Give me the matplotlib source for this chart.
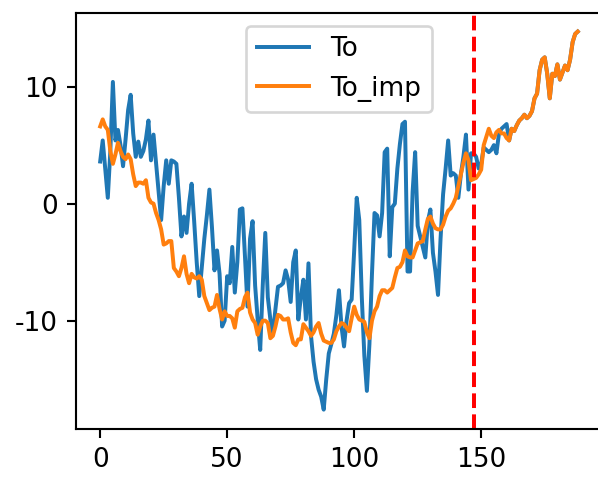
import matplotlib
matplotlib.use("Agg")
import matplotlib.pyplot as plt
import numpy as np

plt.rcParams['axes.unicode_minus'] = False

# Observed series (To) up to index 160, afterwards it coincides with To_imp
to_head = [
    3.6, 5.4, 3.0, 0.5, 4.5, 10.4, 5.4, 6.3, 5.0, 3.2,
    5.5, 8.0, 9.3, 6.0, 4.0, 5.3, 4.0, 4.5, 5.5, 7.1,
    3.7, 5.9, 3.5, 1.0, -1.4, 1.5, 3.7, 1.7, 3.7, 3.6,
    3.4, 0.5, -2.8, -1.1, -2.5, 0.0, 1.7, -1.5, -5.0, -7.9,
    -5.5, -3.0, -1.0, 1.2, -2.0, -5.7, -4.0, -6.0, -10.5, -10.0,
    -6.2, -6.8, -3.7, -7.6, -5.0, -0.5, -0.4, -4.5, -8.8, -3.0,
    -1.5, -7.0, -9.9, -12.5, -7.0, -2.5, -8.0, -9.9, -11.1, -9.0,
    -7.1, -7.0, -6.8, -5.7, -6.5, -8.4, -5.0, -4.0, -9.9, -8.0,
    -6.5, -9.9, -5.1, -11.3, -13.5, -15.0, -15.9, -16.5, -17.6, -15.0,
    -12.8, -12.0, -11.1, -9.5, -7.4, -10.5, -12.2, -10.0, -8.5, -8.2,
    -4.0, 0.5, -1.4, -8.0, -13.0, -16.0, -12.0, -6.0, -0.8, -1.0,
    -2.8, -0.8, 4.4, 4.7, -4.5, -0.3, 0.0, 3.0, 5.1, 6.8,
    7.0, -5.8, -5.8, 1.0, 4.4, -1.9, -2.8, -3.7, -4.6, -1.5,
    -0.5, -4.2, -5.8, -7.8, -3.0, 0.8, 3.0, 5.4, 2.4, 2.6,
    2.4, 0.5, 2.5, 4.0, 5.9, 1.2, 4.3, 4.3, 4.0, 3.0,
    3.4, 4.8, 4.6, 4.4, 4.6, 5.0, 4.3, 6.0, 6.4, 6.6,
    6.8,
]

to_imp = [
    6.6, 7.2, 6.6, 6.3, 4.5, 3.4, 4.2, 5.2, 4.5, 4.0,
    3.8, 4.2, 3.8, 2.5, 1.5, 1.8, 1.8, 1.7, 2.0, 0.5,
    0.1, 0.0, -0.8, -1.4, -2.2, -3.5, -3.4, -3.2, -3.2, -5.5,
    -5.8, -6.2, -5.5, -4.5, -6.0, -6.8, -6.0, -6.3, -6.4, -6.2,
    -6.5, -7.9, -8.5, -9.1, -8.9, -8.8, -7.8, -9.0, -9.9, -9.2,
    -9.6, -9.6, -9.8, -10.6, -9.2, -9.0, -8.9, -8.0, -7.6, -9.3,
    -9.9, -10.2, -11.2, -10.5, -10.0, -10.0, -10.2, -11.5, -11.3, -10.5,
    -9.5, -9.6, -9.9, -9.9, -9.8, -11.0, -11.9, -12.1, -11.6, -11.6,
    -10.3, -10.6, -10.9, -11.3, -11.0, -10.5, -10.2, -11.1, -11.7, -11.8,
    -11.9, -11.9, -11.6, -10.9, -10.5, -10.2, -10.3, -10.6, -10.9, -9.8,
    -8.8, -9.5, -9.9, -10.0, -10.1, -11.0, -11.5, -10.0, -9.2, -8.8,
    -7.9, -7.4, -7.4, -7.6, -7.4, -7.2, -6.3, -5.5, -5.4, -5.0,
    -4.0, -4.5, -4.6, -4.6, -4.0, -3.4, -3.3, -3.2, -2.2, -1.3,
    -1.1, -1.7, -2.1, -2.2, -2.2, -1.8, -1.1, -0.6, -0.4, 0.0,
    0.5, 1.5, 2.5, 3.5, 4.3, 3.7, 2.0, 2.1, 2.2, 2.5,
    2.9, 5.0, 5.7, 6.4, 5.8, 5.6, 6.1, 6.3, 6.0, 6.0,
    5.6, 5.4, 6.4, 6.2, 6.7, 7.1, 7.3, 7.6, 7.3, 7.5,
    7.9, 9.0, 9.4, 11.4, 12.3, 12.5, 11.1, 9.0, 11.1, 10.9,
    11.9, 10.6, 11.2, 11.8, 11.4, 12.3, 13.8, 14.5, 14.7,
]

to_vals = to_head + to_imp[len(to_head):]
split_index = 147

x = np.arange(len(to_imp))

fig = plt.figure(figsize=(598 / 190, 483 / 190), dpi=190)
ax = fig.add_axes([0.1276, 0.1128, 0.8784, 0.8609])
ax.plot(x, to_vals, color='#1f77b4', lw=1.5, label='To')
ax.plot(x, to_imp, color='#ff7f0e', lw=1.5, label='To_imp')
ax.axvline(split_index, color='red', linestyle='--', lw=1.5)
ax.set_xticks([0, 50, 100, 150])
ax.set_yticks([-10, 0, 10])
ax.legend(loc='upper center')

fig.savefig('out.png', dpi=190)
